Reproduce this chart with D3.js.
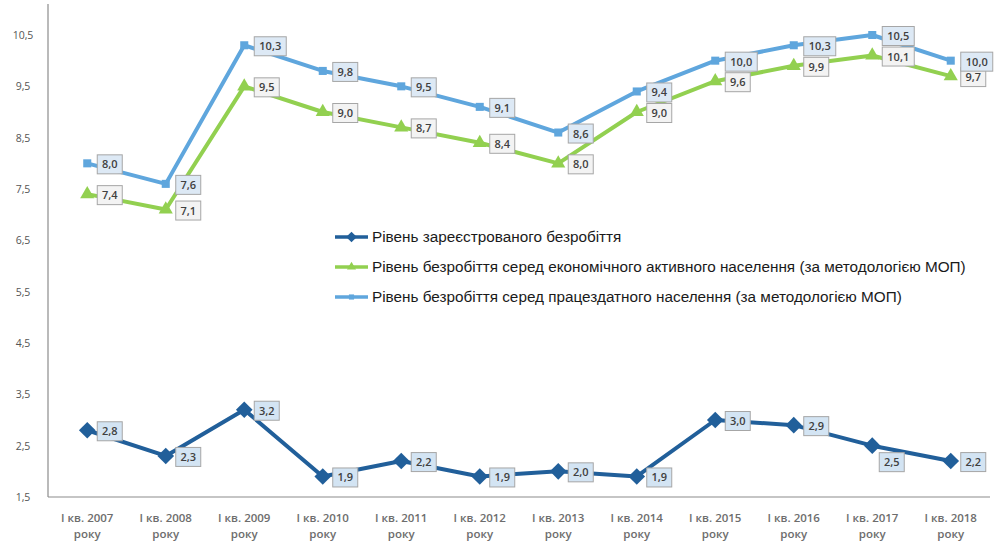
<!DOCTYPE html>
<html>
<head>
<meta charset="utf-8">
<script src="https://cdn.jsdelivr.net/npm/d3@7"></script>
<style>
  html, body { margin: 0; padding: 0; background: #fff; }
  svg { display: block; }
</style>
</head>
<body>
<svg id="chart" width="996" height="541"></svg>
<script>
// Quarter labels (two lines each)
const categories = ["2007", "2008", "2009", "2010", "2011", "2012", "2013", "2014", "2015", "2016", "2017", "2018"];
const categoryLine1 = categories.map(y => "І кв. " + y);
const categoryLine2 = "року";

// Unemployment rates, %
const registered = [2.8, 2.3, 3.2, 1.9, 2.2, 1.9, 2.0, 1.9, 3.0, 2.9, 2.5, 2.2];
const activePop  = [7.4, 7.1, 9.5, 9.0, 8.7, 8.4, 8.0, 9.0, 9.6, 9.9, 10.1, 9.7];
const workingAge = [8.0, 7.6, 10.3, 9.8, 9.5, 9.1, 8.6, 9.4, 10.0, 10.3, 10.5, 10.0];

const yTicks = [1.5, 2.5, 3.5, 4.5, 5.5, 6.5, 7.5, 8.5, 9.5, 10.5];

const seriesNames = [
  "Рівень зареєстрованого безробіття",
  "Рівень безробіття серед економічного активного населення (за методологією МОП)",
  "Рівень безробіття серед працездатного населення (за методологією МОП)"
];

const fmt = v => d3.format(".1f")(v).replace(".", ",");

const svg = d3.select("#chart");
const plotLeft = 48, plotRight = 990, plotTop = 35, plotBottom = 497;

const x = d3.scaleBand().domain(categories).range([plotLeft, plotRight]);
const y = d3.scaleLinear().domain([1.5, 10.5]).range([plotBottom, plotTop]);
const cx = c => x(c) + x.bandwidth() / 2;

// axes frame
svg.append("line").attr("x1", plotLeft).attr("x2", plotLeft).attr("y1", 4).attr("y2", plotBottom)
  .attr("stroke", "#8c8c8c").attr("stroke-width", 1.2);
svg.append("line").attr("x1", plotLeft).attr("x2", plotRight).attr("y1", plotBottom).attr("y2", plotBottom)
  .attr("stroke", "#8c8c8c").attr("stroke-width", 1.2);

// y tick labels
svg.append("g").selectAll("text").data(yTicks).join("text")
  .attr("x", 23).attr("y", d => y(d) + 4)
  .attr("text-anchor", "middle")
  .attr("font-family", "'Open Sans', 'Liberation Sans', sans-serif")
  .attr("font-size", 10.5).attr("fill", "#555")
  .text(d => fmt(d));

// x tick labels
const xl = svg.append("g").selectAll("text").data(categories).join("text")
  .attr("text-anchor", "middle")
  .attr("font-family", "'Open Sans', 'Liberation Sans', sans-serif")
  .attr("font-size", 11.5).attr("font-weight", "600").attr("fill", "#6d6d6d");
xl.append("tspan").attr("x", d => cx(d)).attr("y", 522).text((d, i) => categoryLine1[i]);
xl.append("tspan").attr("x", d => cx(d)).attr("y", 538).text(categoryLine2);

const series = [
  { values: registered, color: "#215f9a", marker: "diamond", box: "#d3e4f3" },
  { values: activePop,  color: "#92d050", marker: "triangle", box: "#f3f3f3" },
  { values: workingAge, color: "#5fa6dd", marker: "square", box: "#dde9f5" }
];

function markerPath(type, size) {
  if (type === "diamond") return d3.symbol(d3.symbolDiamond2, size * 1.6)();
  if (type === "triangle") return d3.symbol(d3.symbolTriangle2, size * 1.3)();
  return d3.symbol(d3.symbolSquare2, size * 0.75)();
}

const line = d3.line().x((d, i) => cx(categories[i])).y(d => y(d));

series.forEach(s => {
  svg.append("path").datum(s.values)
    .attr("d", line).attr("fill", "none")
    .attr("stroke", s.color).attr("stroke-width", 4).attr("stroke-linejoin", "round");
});

series.forEach(s => {
  svg.append("g").selectAll("path").data(s.values).join("path")
    .attr("d", markerPath(s.marker, 110))
    .attr("transform", (d, i) => `translate(${cx(categories[i])},${y(d)})`)
    .attr("fill", s.color);
});

// data labels in boxes
series.forEach((s, si) => {
  const g = svg.append("g");
  s.values.forEach((v, i) => {
    const px = cx(categories[i]), py = y(v);
    const txt = fmt(v);
    const w = txt.length > 3 ? 32 : 25, h = 19;
    let bx = px + 10, by = py - h / 2 + 1;
    if (si === 0 && i === 10) { bx = px + 7; by = py + 7; }
    g.append("rect").attr("x", bx).attr("y", by).attr("width", w).attr("height", h)
      .attr("fill", s.box).attr("stroke", "#a6a6a6").attr("stroke-width", 1);
    g.append("text").attr("x", bx + w / 2).attr("y", by + h / 2 + 4)
      .attr("text-anchor", "middle")
      .attr("font-family", "'Open Sans', 'Liberation Sans', sans-serif")
      .attr("font-size", 11).attr("font-weight", "600").attr("fill", "#404040")
      .text(txt);
  });
});

// legend
const legendY = [237, 267, 297];
const leg = svg.append("g");
series.forEach((s, i) => {
  const ly = legendY[i];
  leg.append("line").attr("x1", 335).attr("x2", 368).attr("y1", ly).attr("y2", ly)
    .attr("stroke", s.color).attr("stroke-width", 3.5);
  leg.append("path").attr("d", markerPath(s.marker, 45))
    .attr("transform", `translate(351.5,${ly})`).attr("fill", s.color);
  leg.append("text").attr("x", 372).attr("y", ly + 5)
    .attr("font-family", "'Liberation Sans', Arial, sans-serif")
    .attr("font-size", 15.3).attr("fill", "#1a1a1a")
    .text(seriesNames[i]);
});
</script>
</body>
</html>
